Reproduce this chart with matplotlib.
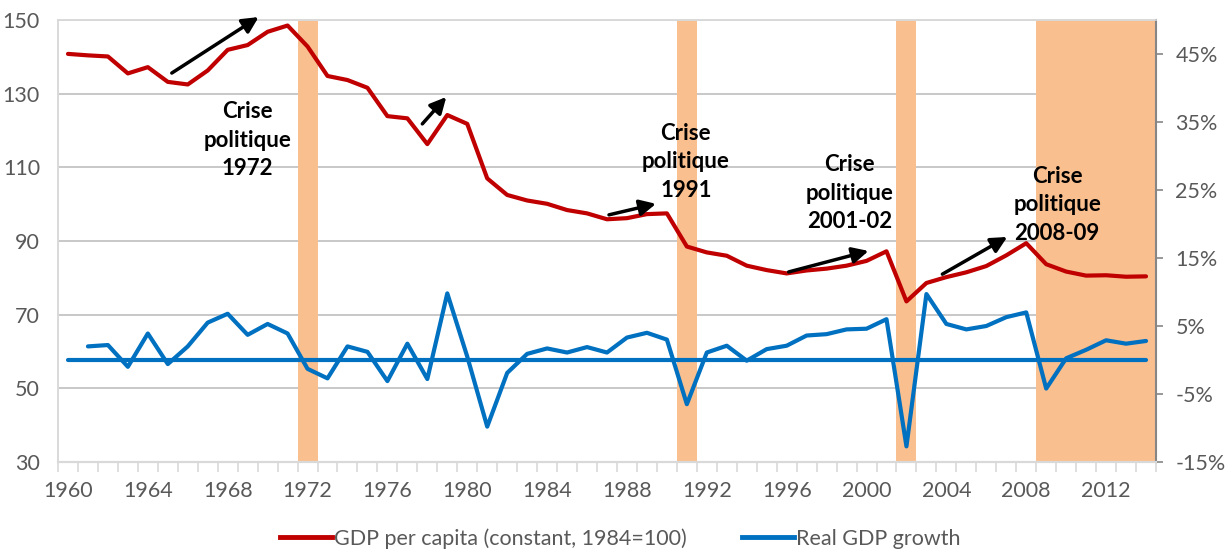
import numpy as np
import matplotlib
matplotlib.use("Agg")
import matplotlib.pyplot as plt
from matplotlib.lines import Line2D

plt.rcParams['font.family'] = ['Lato', 'DejaVu Sans']

# ---- data ----
years = list(range(1960, 2015))

gdp_per_capita = [140.8, 140.4, 140.1, 135.5, 137.2, 133.2, 132.5, 136.3, 141.9, 143.2,
                  146.8, 148.5, 142.8, 134.8, 133.7, 131.6, 123.9, 123.3, 116.3, 124.2,
                  121.8, 107.0, 102.5, 101.0, 100.1, 98.4, 97.5, 95.9, 96.2, 97.3,
                  97.5, 88.5, 86.9, 86.0, 83.3, 82.1, 81.2, 82.0, 82.5, 83.3,
                  84.6, 87.2, 73.6, 78.6, 80.2, 81.5, 83.2, 86.1, 89.4, 83.7,
                  81.7, 80.6, 80.7, 80.3, 80.4]

gdp_growth = [np.nan, 2.0, 2.2, -1.0, 3.9, -0.6, 2.0, 5.5, 6.8, 3.7,
              5.3, 3.9, -1.3, -2.7, 2.0, 1.2, -3.1, 2.4, -2.8, 9.8,
              0.5, -9.8, -1.9, 0.9, 1.7, 1.1, 1.9, 1.1, 3.3, 4.0,
              3.0, -6.5, 1.1, 2.1, -0.1, 1.6, 2.1, 3.6, 3.8, 4.5,
              4.6, 6.0, -12.7, 9.7, 5.3, 4.5, 5.0, 6.3, 7.0, -4.2,
              0.25, 1.5, 2.9, 2.4, 2.8]

zero_line = [0.0] * len(years)

crisis_years = [1972, 1991, 2002, 2009, 2010, 2011, 2012, 2013, 2014]

crisis_labels = ["Crise\npolitique\n1972", "Crise\npolitique\n1991",
                 "Crise\npolitique\n2001-02", "Crise\npolitique\n2008-09"]
label_pos = [(1969.0, 117.4), (1990.95, 111.5), (1999.15, 103.0), (2009.55, 99.8)]

# arrows: (tail, head) in (year, index) units
arrows = [((1965.2, 135.6), (1969.55, 150.8)),
          ((1977.75, 121.8), (1978.95, 129.1)),
          ((1987.1, 97.1), (1989.45, 100.1)),
          ((1996.1, 81.6), (2000.1, 87.3)),
          ((2003.8, 81.0), (2007.05, 91.1))]

left_ticks = [30, 50, 70, 90, 110, 130, 150]
right_ticks = [-15, -5, 5, 15, 25, 35, 45]
year_labels = list(range(1960, 2013, 4))

RED = '#C00000'
BLUE = '#0070C0'
PEACH = '#F9BF8F'
TXT = '#595959'


def to_right(v):
    # left-axis value -> right-axis value (30..150 <-> -15..50)
    return (v - 30) / 120 * 65 - 15


# ---- figure ----
fig = plt.figure(figsize=(12.26, 5.56), dpi=100)
ax = fig.add_axes([58 / 1226, 1 - 462 / 556, 1098 / 1226, 442 / 556])
ax2 = ax.twinx()

ax.set_xlim(1959.5, 2014.5)
ax.set_ylim(30, 150)
ax2.set_ylim(-15, 50)

# gridlines
ax.set_axisbelow(True)
ax.set_yticks(left_ticks)
ax.yaxis.grid(True, color='#BFBFBF', lw=1.2)
ax.tick_params(axis='y', length=0, pad=13, labelsize=15.5, labelcolor=TXT)

# crisis bands
ax.bar(crisis_years, 150 - 30, bottom=30, width=1.0, color=PEACH, zorder=1, lw=0)

# series
ax.plot(years, gdp_per_capita, color=RED, lw=3.0, zorder=3, solid_capstyle='round')
ax2.plot(years, zero_line, color=BLUE, lw=3.0, zorder=3, solid_capstyle='round')
ax2.plot(years, gdp_growth, color=BLUE, lw=3.0, zorder=3, solid_capstyle='round')

# x axis
ax.set_xticks(year_labels)
ax.set_xticklabels([str(y) for y in year_labels])
ax.set_xticks([y - 0.5 for y in years] + [2014.5], minor=True)
ax.tick_params(axis='x', which='major', length=0, pad=14, labelsize=15.5, labelcolor=TXT)
ax.tick_params(axis='x', which='minor', length=7, width=1.2, color='#D9D9D9')

# right axis
ax2.set_yticks(right_ticks)
ax2.set_yticklabels([f"{t}%" for t in right_ticks])
ax2.tick_params(axis='y', length=5, width=1.2, color='#868686', pad=9,
                labelsize=15.5, labelcolor=TXT)

for a in (ax, ax2):
    a.spines['top'].set_color('#D9D9D9')
    a.spines['left'].set_color('#D9D9D9')
    a.spines['bottom'].set_color('#D9D9D9')
    a.spines['bottom'].set_linewidth(1.5)
    a.spines['left'].set_linewidth(1.2)
    a.spines['top'].set_linewidth(1.2)
ax2.spines['right'].set_color('#868686')
ax2.spines['right'].set_linewidth(1.5)
ax.spines['right'].set_visible(False)

# annotations
for txt, (x, y) in zip(crisis_labels, label_pos):
    ax2.text(x, to_right(y), txt, ha='center', va='center', fontsize=16,
             fontweight='bold', color='black', linespacing=1.45, zorder=6)

for (x1, y1), (x2, y2) in arrows:
    ax2.annotate("", xy=(x2, to_right(y2)), xytext=(x1, to_right(y1)),
                 arrowprops=dict(arrowstyle='-|>', color='black', lw=2.5, mutation_scale=24,
                                 shrinkA=0, shrinkB=0),
                 annotation_clip=False, zorder=6)

# legend
handles = [Line2D([0], [0], color=RED, lw=3.5),
           Line2D([0], [0], color=BLUE, lw=3.5)]
fig.legend(handles, ["GDP per capita (constant, 1984=100)", "Real GDP growth"],
           loc='lower center', bbox_to_anchor=(0.506, -0.022), ncol=2, frameon=False,
           fontsize=15.5, handlelength=2.4, handletextpad=0.1, columnspacing=2.6,
           labelcolor=TXT)

fig.savefig("out.png", dpi=100)
